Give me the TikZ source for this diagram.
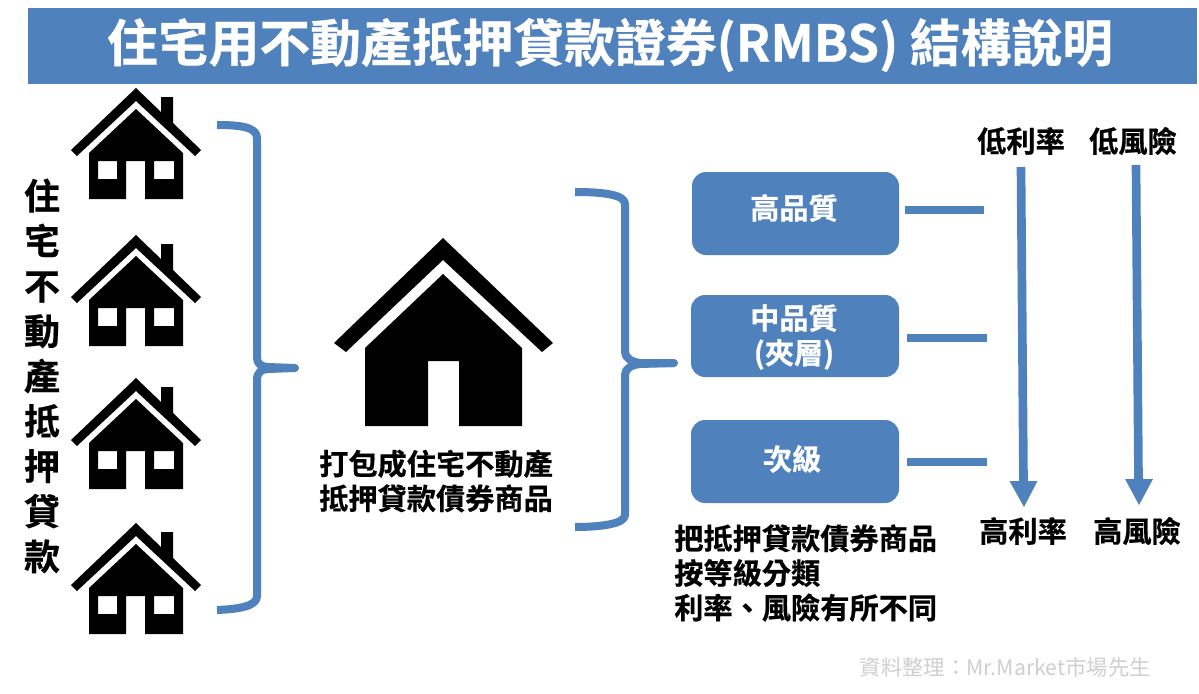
\documentclass[tikz,border=0pt]{standalone}
\usepackage{fontspec}
\setmainfont{Noto Sans CJK TC}[BoldFont={Noto Sans CJK TC Bold}]
\newfontfamily\cjkb[FakeBold=0.6]{Noto Sans CJK TC Bold}
\definecolor{mblue}{HTML}{4F81BD}
\definecolor{mgrey}{HTML}{CFCFCF}
\tikzset{
 lbl/.style={font=\cjkb\fontsize{21.9}{26}\selectfont, text=black, inner sep=0pt, align=center},
 boxlbl/.style={font=\cjkb\fontsize{21.9}{26}\selectfont, text=white, inner sep=0pt, align=center},
 tier/.style={fill=mblue, rounded corners=10.5pt, draw=none},
 bracel/.style={draw=mblue, line width=6pt, line join=round, line cap=round},
 bracestart/.style={draw=mblue, line width=6pt, line join=round},
 tick/.style={draw=mblue, line width=6pt},
 shaft/.style={draw=mblue, line width=6.5pt},
 smallhouse/.pic={
  \fill[black] (-65,62) -- (0,0) -- (25,24) -- (25,9) -- (37,9) -- (37,35) -- (65,62) -- (59,68) -- (0,13) -- (-59,68) -- cycle;
  \fill[black,even odd rule] (0,21) -- (47,65) -- (47,111) -- (9,111) -- (9,73) -- (-10,73) -- (-10,111) -- (-47,111) -- (-47,65) -- cycle
    (-38,73) rectangle (-19,91) (18,73) rectangle (38,91);
 },
}
\begin{document}
\begin{tikzpicture}[x=0.75pt,y=-0.75pt]
\useasboundingbox (0,0) rectangle (1199,693);
\fill[white] (0,0) rectangle (1199,693);
\fill[mblue] (28,8) rectangle (1197,84);
\node[font=\cjkb\fontsize{38.1}{44}\selectfont,text=white,inner sep=0pt] (title) at (610,45) {住宅用不動產抵押貸款證券(RMBS) 結構說明};

\pic at (136,88) {smallhouse};
\pic at (136,235) {smallhouse};
\pic at (136,378) {smallhouse};
\pic at (136,523) {smallhouse};

\node[lbl,font=\cjkb\fontsize{27}{33.8}\selectfont] (side) at (42,376) {住\\宅\\不\\動\\產\\抵\\押\\貸\\款};

\draw[bracestart] (217,125) .. controls (240,125) and (257,127) .. (257,138) -- (257,358) .. controls (257,364) and (262,367) .. (268,367) -- (295,368);
\draw[bracestart] (295,368) -- (268,369) .. controls (262,369) and (257,372) .. (257,380) -- (257,596) .. controls (257,606) and (240,609) .. (217,610);
\fill[mblue] (295,368) circle (4);

\fill[black] (443,238) -- (553,343) -- (542,352) -- (443,260) -- (346,352) -- (334,343) -- cycle;
\fill[black] (443,274) -- (522,348) -- (522,426) -- (459,426) -- (459,361) -- (428,361) -- (428,426) -- (365,426) -- (365,348) -- cycle;

\node[lbl] (pack) at (436,481) {打包成住宅不動產\\抵押貸款債券商品};

\draw[bracestart] (575,192) .. controls (600,192) and (625,194) .. (625,204) -- (625,352) .. controls (625,358) and (632,362) .. (640,363) -- (674,363);
\draw[bracestart] (674,363) -- (640,364) .. controls (632,365) and (625,368) .. (625,375) -- (625,515) .. controls (625,524) and (600,527) .. (575,527);
\fill[mblue] (674,363) circle (4);

\path[tier] (692,172) rectangle (899,255);
\path[tier] (691,295) rectangle (899,377);
\path[tier] (691,420) rectangle (899,503);
\node[boxlbl] (hi) at (794,208) {高品質};
\node[boxlbl] (mid) at (794,337) {中品質\\(夾層)};
\node[boxlbl] (low) at (792,459) {次級};

\coordinate (t1a) at (905,210); \coordinate (t1b) at (984,210);
\coordinate (t2a) at (907,338); \coordinate (t2b) at (987,338);
\coordinate (t3a) at (907,462); \coordinate (t3b) at (987,462);
\draw[tick] (t1a) -- (t1b);
\draw[tick] (t2a) -- (t2b);
\draw[tick] (t3a) -- (t3b);

\node[lbl] (lr) at (1021,141) {低利率};
\node[lbl] (lk) at (1133,141) {低風險};
\node[lbl] (hr) at (1023,531) {高利率};
\node[lbl] (hk) at (1137,531) {高風險};

\coordinate (a1) at (1021,167); \coordinate (a1m) at (1023.5,482); \coordinate (a2) at (1136,165); \coordinate (a2m) at (1138.5,480);
\draw[shaft] (a1) -- (a1m);
\fill[mblue] (1009.5,481) -- (1037.5,481) -- (1024,507) -- cycle;
\draw[shaft] (a2) -- (a2m);
\fill[mblue] (1125,479) -- (1153,479) -- (1139,505) -- cycle;

\node[lbl,align=left,anchor=west] (desc) at (674,573) {把抵押貸款債券商品\\按等級分類\\利率、風險有所不同};

\node[font=\fontsize{16}{18}\selectfont,text=mgrey,inner sep=0pt,anchor=east] (src) at (1151,667) {資料整理：Mr.Market市場先生};
\end{tikzpicture}
\end{document}
